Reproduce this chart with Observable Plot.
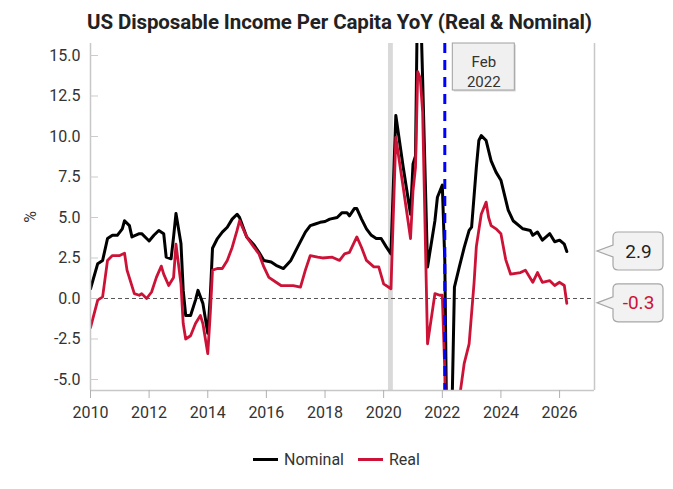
<!DOCTYPE html>
<html><head><meta charset="utf-8">
<script src="https://cdn.jsdelivr.net/npm/d3@7"></script>
<script src="https://cdn.jsdelivr.net/npm/@observablehq/plot@0.6"></script>
<style>
html,body{margin:0;padding:0;background:#fff;}
#wrap{position:relative;width:673px;height:489px;font-family:Roboto,sans-serif;overflow:hidden;}
#chart{position:absolute;left:0;top:0;}
#title{position:absolute;left:0;top:12px;width:679px;text-align:center;font-weight:700;font-size:20.5px;line-height:20px;color:#222;white-space:nowrap;letter-spacing:-0.1px;}
#legend{position:absolute;left:0;top:449px;width:673px;height:20px;display:flex;justify-content:center;align-items:center;font-size:16px;color:#333;}
#legend .item{display:flex;align-items:center;margin:0 7px;}
#legend .sw{display:inline-block;width:25px;height:3px;margin-right:6px;}
</style></head>
<body>
<div id="wrap">
  <div id="chart"></div>
  <div id="title">US Disposable Income Per Capita YoY (Real &amp; Nominal)</div>
  <div id="legend"></div>
</div>
<script>
// ---- data ----
const nominalDates = ["2010-01","2010-04","2010-06","2010-08","2010-10","2010-12","2011-02","2011-03","2011-05","2011-06","2011-09","2011-10","2011-12","2012-01","2012-03","2012-05","2012-07","2012-08","2012-10","2012-11","2012-12","2013-02","2013-03","2013-04","2013-06","2013-08","2013-09","2013-11","2014-01","2014-02","2014-03","2014-05","2014-07","2014-09","2014-11","2015-01","2015-02","2015-05","2015-08","2015-10","2015-12","2016-03","2016-05","2016-08","2016-11","2017-02","2017-05","2017-07","2017-09","2017-11","2018-01","2018-03","2018-06","2018-08","2018-10","2018-11","2019-01","2019-02","2019-04","2019-06","2019-08","2019-10","2019-12","2020-02","2020-04","2020-06","2020-09","2020-12","2021-01","2021-02","2021-03","2021-04","2021-05","2021-07","2021-10","2021-11","2022-01","2022-02","2022-03","2022-04","2022-05","2022-06","2022-08","2022-10","2022-12","2023-01","2023-03","2023-04","2023-05","2023-07","2023-09","2023-11","2024-01","2024-04","2024-06","2024-10","2025-01","2025-02","2025-04","2025-06","2025-09","2025-11","2026-01","2026-03","2026-04"];
const nominalValues = [0.6,2.15,2.35,3.7,3.9,3.9,4.3,4.8,4.5,3.8,4.0,4.0,3.7,3.55,3.9,4.2,4.0,2.55,2.45,3.8,5.25,3.4,0.5,-1.05,-1.05,-0.1,0.5,-0.3,-2.15,0.1,3.1,3.7,4.1,4.4,4.9,5.2,5.0,3.8,3.3,2.85,2.35,2.25,2.05,1.85,2.35,3.25,4.1,4.5,4.6,4.7,4.75,4.9,5.0,5.3,5.3,5.1,5.55,5.55,4.9,4.3,3.9,3.7,3.7,3.2,2.75,11.3,8.1,5.2,8.3,8.8,20.0,19.0,13.5,1.95,4.8,6.25,7.0,2.35,-10.0,-9.0,-7.0,0.7,1.95,3.15,4.2,4.4,8.1,9.75,10.05,9.75,8.5,7.8,7.3,5.45,4.8,4.3,4.2,3.9,4.1,3.6,4.0,3.5,3.6,3.35,2.9];
const realDates = ["2010-01","2010-04","2010-06","2010-08","2010-10","2011-01","2011-03","2011-04","2011-07","2011-09","2011-10","2011-12","2012-02","2012-04","2012-06","2012-07","2012-09","2012-11","2012-12","2013-02","2013-03","2013-04","2013-06","2013-08","2013-10","2013-11","2014-01","2014-02","2014-03","2014-05","2014-07","2014-09","2014-11","2015-01","2015-02","2015-05","2015-08","2015-10","2015-12","2016-02","2016-05","2016-07","2016-09","2016-12","2017-03","2017-05","2017-07","2017-10","2017-12","2018-04","2018-07","2018-09","2018-11","2019-02","2019-04","2019-06","2019-09","2019-11","2020-01","2020-04","2020-06","2020-09","2020-12","2021-01","2021-02","2021-03","2021-04","2021-05","2021-07","2021-10","2021-12","2022-01","2022-02","2022-03","2022-04","2022-05","2022-06","2022-07","2022-08","2022-10","2022-12","2023-02","2023-03","2023-05","2023-07","2023-08","2023-09","2023-11","2024-01","2024-03","2024-05","2024-09","2024-11","2025-02","2025-04","2025-06","2025-09","2025-11","2026-01","2026-03","2026-04"];
const realValues = [-1.8,-0.1,0.1,2.35,2.65,2.65,2.8,1.75,0.3,0.2,0.3,0.0,0.4,1.3,2.0,1.5,0.8,1.3,3.35,0.9,-1.55,-2.5,-2.3,-1.55,-1.05,-1.55,-3.4,-0.95,1.75,1.85,1.85,2.35,3.15,4.2,4.8,3.8,3.15,2.75,1.95,1.3,1.0,0.8,0.8,0.8,0.7,1.75,2.65,2.55,2.5,2.55,2.35,2.75,2.85,3.8,3.15,2.35,1.95,1.95,0.9,0.6,9.95,6.85,3.7,6.65,8.1,14.0,13.6,11.5,-2.8,0.3,0.2,0.2,-4.5,-14.0,-13.0,-11.0,-9.5,-8.0,-6.2,-4.0,-2.8,1.0,3.2,5.2,5.95,5.0,4.5,4.3,4.0,2.4,1.5,1.6,1.75,1.0,1.6,1.0,1.1,0.8,1.0,0.8,-0.3];
const seriesNames = ["Nominal","Real"];
const seriesColors = ["#000000","#cc1236"];
const xTickYears = ["2010","2012","2014","2016","2018","2020","2022","2024","2026"];
const yTickValues = [-5,-2.5,0,2.5,5,7.5,10,12.5,15];
const xDomainDates = ["2010-01-01","2027-03-12"];
const yDomainValues = [-5.68,15.74];
const eventMonth = "2022-02";
const eventLabel = "Feb\n2022";
const bandMonths = ["2020-03","2020-05"];

// ---- build tables ----
const pm = d3.utcParse("%Y-%m");
const pd = d3.utcParse("%Y-%m-%d");
const py = d3.utcParse("%Y");
const nominal = nominalDates.map((d,i)=>({date:pm(d), value:nominalValues[i]}));
const real = realDates.map((d,i)=>({date:pm(d), value:realValues[i]}));
const xDomain = xDomainDates.map(pd);
const xTicks = xTickYears.map(py);
const eventDate = pm(eventMonth);
const band = [{x1:pm(bandMonths[0]), x2:pm(bandMonths[1])}];
const lastPoints = [
  {value: nominal[nominal.length-1].value, color: "#222"},
  {value: real[real.length-1].value, color: seriesColors[1]}
];

// callout boxes (drawn with the plot's scales)
function calloutBoxes(index, scales, values, dim) {
  const g = d3.create("svg:g");
  const right = dim.width - dim.marginRight;
  for (const p of lastPoints) {
    const yv = scales.y(p.value);
    const tip = right + 3, bx = right + 19, w = 50, h = 38, r = 5;
    const top = yv - h/2, bot = yv + h/2;
    const path = `M${bx+r},${top}H${bx+w-r}Q${bx+w},${top} ${bx+w},${top+r}V${bot-r}Q${bx+w},${bot} ${bx+w-r},${bot}H${bx+r}Q${bx},${bot} ${bx},${bot-r}V${yv+6}L${tip},${yv}L${bx},${yv-6}V${top+r}Q${bx},${top} ${bx+r},${top}Z`;
    g.append("path").attr("d", path).attr("fill", "#f2f2f2").attr("stroke", "#a6a6a6").attr("stroke-width", 1.2);
  }
  // event box
  const ex = scales.x(eventDate);
  const top = dim.marginTop;
  g.append("rect").attr("x", ex + 9.5).attr("y", top + 1.5).attr("width", 62).attr("height", 47)
    .attr("fill", "#c8c8c8").attr("opacity", 0.7);
  g.append("rect").attr("x", ex + 8).attr("y", top).attr("width", 62).attr("height", 47)
    .attr("fill", "#f0f0f0").attr("stroke", "#a0a0a0").attr("stroke-width", 1);
  return g.node();
}

const plot = Plot.plot({
  width: 673,
  height: 430,
  marginTop: 43,
  marginBottom: 40,
  marginLeft: 90,
  marginRight: 79,
  style: {fontFamily: "Roboto, sans-serif", fontSize: "16px", color: "#333", background: "white", overflow: "visible"},
  x: {type: "utc", domain: xDomain},
  y: {domain: yDomainValues},
  marks: [
    Plot.rect(band, {x1: "x1", x2: "x2", fill: "#d9d9d9"}),
    Plot.ruleY([0], {stroke: "#555", strokeWidth: 1, strokeDasharray: "4,3"}),
    Plot.line(nominal, {x: "date", y: "value", stroke: seriesColors[0], strokeWidth: 3, strokeLinejoin: "round", clip: true}),
    Plot.line(real, {x: "date", y: "value", stroke: seriesColors[1], strokeWidth: 2.8, strokeLinejoin: "round", clip: true}),
    Plot.ruleX([eventDate], {stroke: "#0000ff", strokeWidth: 3, strokeDasharray: "10,7"}),
    Plot.ruleX([xDomain[0], xDomain[1]], {stroke: "#c8c8c8", strokeWidth: 1.5}),
    Plot.ruleY([yDomainValues[0]], {stroke: "#c8c8c8", strokeWidth: 1.5}),
    Plot.axisX({ticks: xTicks, tickFormat: "%Y", tickSize: 8, tickPadding: 8, stroke: "#b0b0b0", fill: "#333", label: null, fontSize: 16}),
    Plot.axisY({ticks: yTickValues, tickSize: 8, dx: 8, stroke: "#cccccc", fill: "none", label: null}),
    Plot.axisY({ticks: yTickValues, tickSize: 0, tickPadding: 10, tickFormat: d => d.toFixed(1), fill: "#333", fontSize: 16,
      label: "%", labelAnchor: "center", labelArrow: "none", labelOffset: 66}),
    calloutBoxes,
    Plot.text([{label: eventLabel}], {x: () => eventDate, y: () => yDomainValues[1], text: "label", dx: 39, dy: 9,
      lineAnchor: "top", lineHeight: 1.33, textAnchor: "middle", fontSize: 15, fill: "#333"}),
    Plot.text(lastPoints, {y: "value", frameAnchor: "right", text: d => d.value.toFixed(1), dx: 44,
      textAnchor: "middle", lineAnchor: "middle", fontSize: 19, fill: d => d.color})
  ]
});
document.getElementById("chart").appendChild(plot);

// legend
const legend = d3.select("#legend");
seriesNames.forEach((n,i)=>{
  const it = legend.append("div").attr("class","item");
  it.append("span").attr("class","sw").style("background", seriesColors[i]);
  it.append("span").text(n);
});
</script>
</body></html>
